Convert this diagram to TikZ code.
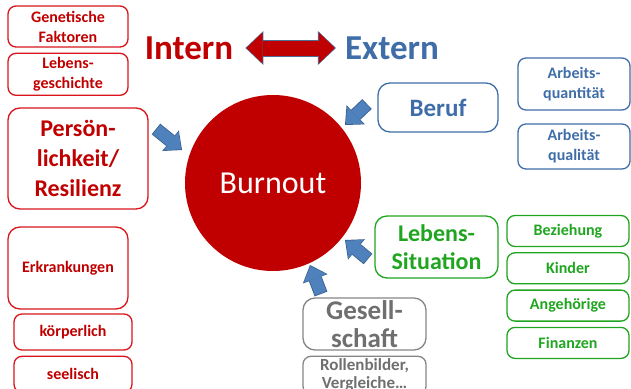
\documentclass[tikz,border=0pt]{standalone}
\usepackage{fontspec}
\setmainfont{Carlito}
\usetikzlibrary{positioning,arrows.meta}

\definecolor{burnred}{HTML}{C00000}
\definecolor{boxred}{HTML}{D9151B}
\definecolor{extblue}{HTML}{3F6DA8}
\definecolor{lifegreen}{HTML}{1FA51F}
\definecolor{socgray}{HTML}{6F6F6F}
\definecolor{arrowblue}{HTML}{4F81BD}
\definecolor{arrowedge}{HTML}{385D8A}

\tikzset{
  box/.style={draw, rounded corners=8pt, line width=1.3pt, align=center, inner sep=0pt},
  small/.style={font=\bfseries\fontsize{16}{20}\selectfont},
  big/.style={font=\bfseries\fontsize{24}{28}\selectfont, rounded corners=12pt},
  intbox/.style={box, draw=boxred, text=burnred},
  extbox/.style={box, draw=extblue, text=extblue},
  lifebox/.style={box, draw=lifegreen, text=lifegreen},
  socbox/.style={box, draw=socgray!85, text=socgray},
  push/.style={line width=12pt, draw=arrowblue, shorten <=0.8pt, shorten >=1.2pt,
    -{Triangle[width=24pt,length=13pt,line width=0pt]},
    preaction={draw=arrowedge, line width=13.6pt, shorten <=0pt, shorten >=0pt,
      -{Triangle[width=26.5pt,length=14.8pt,line width=0pt]}}}
}

\begin{document}
\begin{tikzpicture}[x=1pt,y=-1pt]
  \useasboundingbox (0,0) rectangle (631,388);

  % intern
  \node[intbox, small, minimum width=120pt, minimum height=41pt] (gen) at (68,26.5) {Genetische\\Faktoren};
  \node[intbox, small, minimum width=120pt, minimum height=42pt, below=5pt of gen] (lebg) {Lebens-\\geschichte};
  \node[intbox, big, font=\bfseries\fontsize{24}{30}\selectfont, minimum width=140pt, minimum height=101pt] (pers) at (78,158.5) {Persön-\\lichkeit/\\Resilienz};
  \node[intbox, small, rounded corners=12pt, minimum width=120pt, minimum height=82pt] (erkr) at (68,268) {Erkrankungen};
  \node[intbox, small, minimum width=118pt, minimum height=36pt] (koerp) at (73,332) {körperlich};
  \node[intbox, small, minimum width=118pt, minimum height=36pt, below=5pt of koerp] (seel) {seelisch};

  % Intern <-> Extern
  \node[text=burnred, inner sep=0pt, font=\bfseries\fontsize{35}{40}\selectfont] (intern) at (189,48) {Intern};
  \node[text=extblue, inner sep=0pt, font=\bfseries\fontsize{35}{40}\selectfont] (extern) at (392,48) {Extern};
  \path (intern) edge[line width=15pt, draw=burnred, shorten <=13.2pt, shorten >=10.2pt,
    {Triangle[width=31pt,length=16pt,line width=0pt]}-{Triangle[width=31pt,length=16pt,line width=0pt]},
    preaction={draw=arrowedge!90, line width=17pt, shorten <=12pt, shorten >=9pt,
      {Triangle[width=34pt,length=18pt,line width=0pt]}-{Triangle[width=34pt,length=18pt,line width=0pt]}}] (extern);

  % Mitte
  \node[circle, fill=burnred, minimum size=176pt, inner sep=0pt, text=white, font=\fontsize{32}{36}\selectfont] (burnout) at (273,183) {Burnout};

  % extern
  \node[extbox, big, font=\bfseries\fontsize{25}{28}\selectfont, minimum width=120pt, minimum height=49pt] (beruf) at (438,107.5) {Beruf};
  \node[extbox, small, minimum width=112pt, minimum height=52pt] (aquant) at (574,84) {Arbeits-\\quantität};
  \node[extbox, small, minimum width=112pt, minimum height=45pt] (aqual) at (574,146.5) {Arbeits-\\qualität};

  \node[lifebox, big, minimum width=123pt, minimum height=62pt] (lebsit) at (436.5,247) {Lebens-\\Situation};
  \node[lifebox, small, minimum width=122pt, minimum height=31pt] (bez) at (568,231) {Beziehung};
  \node[lifebox, small, minimum width=122pt, minimum height=31pt, below=5pt of bez] (kind) {Kinder};
  \node[lifebox, small, minimum width=122pt, minimum height=31pt, below=5pt of kind] (angeh) {Angehörige};
  \node[lifebox, small, minimum width=122pt, minimum height=31pt, below=5pt of angeh] (finanz) {Finanzen};

  \node[socbox, big, font=\bfseries\fontsize{27}{28}\selectfont, minimum width=123pt, minimum height=52pt] (gesell) at (364.5,324) {Gesell-\\schaft};
  \node[socbox, small, font=\bfseries\fontsize{17}{18}\selectfont, minimum width=123pt, minimum height=38pt, below=5pt of gesell] (rollen) {Rollenbilder,\\Vergleiche…};

  % Pfeile
  \coordinate (p1) at (156,129);
  \coordinate (p1h) at (182,150);
  \coordinate (p2) at (367,104);
  \coordinate (p2h) at (345,125);
  \coordinate (p3) at (368,259);
  \coordinate (p3h) at (345,240);
  \coordinate (p4) at (321,294);
  \coordinate (p4h) at (310,265);
  \path (p1) edge[push] (p1h);
  \path (p2) edge[push] (p2h);
  \path (p3) edge[push] (p3h);
  \path (p4) edge[push] (p4h);
\end{tikzpicture}
\end{document}
